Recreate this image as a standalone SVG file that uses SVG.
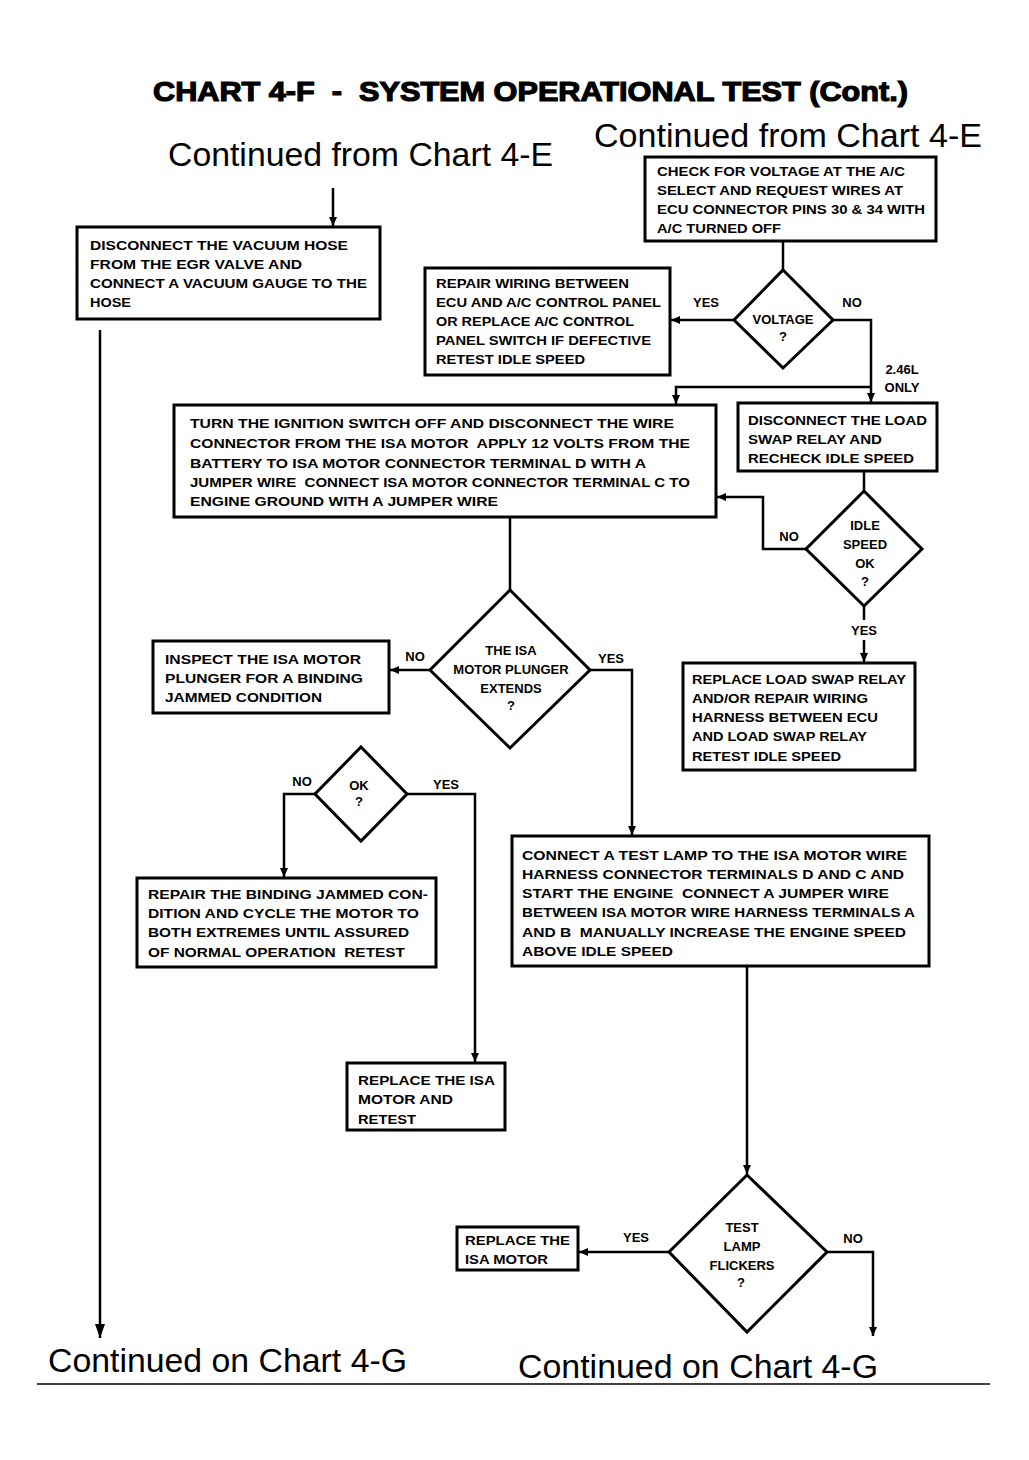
<svg xmlns="http://www.w3.org/2000/svg" width="1029" height="1460" viewBox="0 0 1029 1460">
<style>
.bx{fill:#fff;stroke:#000;stroke-width:3}
.dm{fill:#fff;stroke:#000;stroke-width:3}
.t{font-family:"Liberation Sans",Arial,sans-serif;font-weight:bold;font-size:13px;fill:#000;white-space:pre}
.c{text-anchor:middle}
.big{font-family:"Liberation Sans",Arial,sans-serif;font-size:34px;fill:#000}
.ttl{font-family:"Liberation Sans",Arial,sans-serif;font-weight:900;font-size:28px;fill:#000;stroke:#000;stroke-width:1.2;white-space:pre}
.ln{fill:none;stroke:#000;stroke-width:2.5}
</style>
<defs>
<marker id="a" markerUnits="userSpaceOnUse" markerWidth="9" markerHeight="8" refX="9" refY="4" orient="auto"><path d="M0,0 L9,4 L0,8 z" fill="#000"/></marker>
<marker id="ab" markerUnits="userSpaceOnUse" markerWidth="14" markerHeight="10" refX="14" refY="5" orient="auto"><path d="M0,0 L14,5 L0,10 z" fill="#000"/></marker>
</defs>
<rect width="1029" height="1460" fill="#fff"/>

<g id="title">
<text class="ttl" x="153" y="101" textLength="755" lengthAdjust="spacingAndGlyphs" xml:space="preserve">CHART 4-F  -  SYSTEM OPERATIONAL TEST (Cont.)</text>
</g>
<g id="cont-from-left"><text class="big" x="168" y="166" textLength="385" lengthAdjust="spacingAndGlyphs">Continued from Chart 4-E</text></g>
<g id="cont-from-right"><text class="big" x="594" y="147" textLength="388" lengthAdjust="spacingAndGlyphs">Continued from Chart 4-E</text></g>
<g id="cont-on-left"><text class="big" x="48" y="1372" textLength="359" lengthAdjust="spacingAndGlyphs">Continued on Chart 4-G</text></g>
<g id="cont-on-right"><text class="big" x="518" y="1378" textLength="360" lengthAdjust="spacingAndGlyphs">Continued on Chart 4-G</text></g>

<g id="connectors">
<path class="ln" d="M333,188 V226" marker-end="url(#a)"/>
<path class="ln" d="M100,330 V1338" marker-end="url(#ab)"/>
<path class="ln" d="M783,242 V270"/>
<path class="ln" d="M734,320 H671" marker-end="url(#a)"/>
<path class="ln" d="M833,320 H871 V402" marker-end="url(#a)"/>
<path class="ln" d="M871,387 H676 V404" marker-end="url(#a)"/>
<path class="ln" d="M864,471 V491"/>
<path class="ln" d="M806,549 H763 V497 H717" marker-end="url(#a)"/>
<path class="ln" d="M864,606 V620"/>
<path class="ln" d="M864,640 V662" marker-end="url(#a)"/>
<path class="ln" d="M510,517 V590"/>
<path class="ln" d="M430,670 H390" marker-end="url(#a)"/>
<path class="ln" d="M590,670 H632 V835" marker-end="url(#a)"/>
<path class="ln" d="M315,794 H284 V877" marker-end="url(#a)"/>
<path class="ln" d="M407,794 H475 V1062" marker-end="url(#a)"/>
<path class="ln" d="M747,966 V1174" marker-end="url(#a)"/>
<path class="ln" d="M669,1252 H579" marker-end="url(#a)"/>
<path class="ln" d="M827,1252 H873 V1336" marker-end="url(#a)"/>
<line x1="37" y1="1384" x2="990" y2="1384" stroke="#000" stroke-width="1.5"/>
<g class="t c">
<text x="706" y="307">YES</text>
<text x="852" y="307">NO</text>
<text x="902" y="374">2.46L</text>
<text x="902" y="392">ONLY</text>
<text x="789" y="541">NO</text>
<text x="864" y="635">YES</text>
<text x="415" y="661">NO</text>
<text x="611" y="663">YES</text>
<text x="302" y="786">NO</text>
<text x="446" y="789">YES</text>
<text x="636" y="1242">YES</text>
<text x="853" y="1243">NO</text>
</g>
</g>

<g id="n-vacuum">
<rect class="bx" x="77" y="227" width="303" height="92"/>
<text class="t" x="90" y="250" textLength="258" lengthAdjust="spacingAndGlyphs">DISCONNECT THE VACUUM HOSE</text>
<text class="t" x="90" y="269" textLength="212" lengthAdjust="spacingAndGlyphs">FROM THE EGR VALVE AND</text>
<text class="t" x="90" y="288" textLength="277" lengthAdjust="spacingAndGlyphs">CONNECT A VACUUM GAUGE TO THE</text>
<text class="t" x="90" y="307" textLength="41" lengthAdjust="spacingAndGlyphs">HOSE</text>
</g>

<g id="n-check-voltage">
<rect class="bx" x="645" y="157" width="291" height="84"/>
<text class="t" x="657" y="176" textLength="248" lengthAdjust="spacingAndGlyphs">CHECK FOR VOLTAGE AT THE A/C</text>
<text class="t" x="657" y="195" textLength="246" lengthAdjust="spacingAndGlyphs">SELECT AND REQUEST WIRES AT</text>
<text class="t" x="657" y="214" textLength="268" lengthAdjust="spacingAndGlyphs">ECU CONNECTOR PINS 30 &amp; 34 WITH</text>
<text class="t" x="657" y="233" textLength="124" lengthAdjust="spacingAndGlyphs">A/C TURNED OFF</text>
</g>

<g id="d-voltage">
<polygon class="dm" points="783,270 833,320 783,368 734,320"/>
<text class="t c" x="783" y="324">VOLTAGE</text>
<text class="t c" x="783" y="341">?</text>
</g>

<g id="n-repair-wiring">
<rect class="bx" x="425" y="268" width="245" height="107"/>
<text class="t" x="436" y="288" textLength="193" lengthAdjust="spacingAndGlyphs">REPAIR WIRING BETWEEN</text>
<text class="t" x="436" y="307" textLength="225" lengthAdjust="spacingAndGlyphs">ECU AND A/C CONTROL PANEL</text>
<text class="t" x="436" y="326" textLength="198" lengthAdjust="spacingAndGlyphs">OR REPLACE A/C CONTROL</text>
<text class="t" x="436" y="345" textLength="215" lengthAdjust="spacingAndGlyphs">PANEL SWITCH IF DEFECTIVE</text>
<text class="t" x="436" y="364" textLength="149" lengthAdjust="spacingAndGlyphs">RETEST IDLE SPEED</text>
</g>

<g id="n-ignition">
<rect class="bx" x="174" y="405" width="542" height="112"/>
<text class="t" x="190" y="428" textLength="484" lengthAdjust="spacingAndGlyphs">TURN THE IGNITION SWITCH OFF AND DISCONNECT THE WIRE</text>
<text class="t" x="190" y="448" textLength="500" lengthAdjust="spacingAndGlyphs" xml:space="preserve">CONNECTOR FROM THE ISA MOTOR  APPLY 12 VOLTS FROM THE</text>
<text class="t" x="190" y="468" textLength="456" lengthAdjust="spacingAndGlyphs">BATTERY TO ISA MOTOR CONNECTOR TERMINAL D WITH A</text>
<text class="t" x="190" y="487" textLength="500" lengthAdjust="spacingAndGlyphs" xml:space="preserve">JUMPER WIRE  CONNECT ISA MOTOR CONNECTOR TERMINAL C TO</text>
<text class="t" x="190" y="506" textLength="308" lengthAdjust="spacingAndGlyphs">ENGINE GROUND WITH A JUMPER WIRE</text>
</g>

<g id="n-load-swap">
<rect class="bx" x="738" y="403" width="199" height="68"/>
<text class="t" x="748" y="425" textLength="179" lengthAdjust="spacingAndGlyphs">DISCONNECT THE LOAD</text>
<text class="t" x="748" y="444" textLength="134" lengthAdjust="spacingAndGlyphs">SWAP RELAY AND</text>
<text class="t" x="748" y="463" textLength="166" lengthAdjust="spacingAndGlyphs">RECHECK IDLE SPEED</text>
</g>

<g id="d-idle">
<polygon class="dm" points="864,491 922,549 864,606 806,549"/>
<text class="t c" x="865" y="530">IDLE</text>
<text class="t c" x="865" y="549">SPEED</text>
<text class="t c" x="865" y="568">OK</text>
<text class="t c" x="865" y="586">?</text>
</g>

<g id="n-replace-relay">
<rect class="bx" x="683" y="663" width="232" height="107"/>
<text class="t" x="692" y="684" textLength="214" lengthAdjust="spacingAndGlyphs">REPLACE LOAD SWAP RELAY</text>
<text class="t" x="692" y="703" textLength="176" lengthAdjust="spacingAndGlyphs">AND/OR REPAIR WIRING</text>
<text class="t" x="692" y="722" textLength="186" lengthAdjust="spacingAndGlyphs">HARNESS BETWEEN ECU</text>
<text class="t" x="692" y="741" textLength="175" lengthAdjust="spacingAndGlyphs">AND LOAD SWAP RELAY</text>
<text class="t" x="692" y="761" textLength="149" lengthAdjust="spacingAndGlyphs">RETEST IDLE SPEED</text>
</g>

<g id="d-plunger">
<polygon class="dm" points="510,590 590,670 510,748 430,670"/>
<text class="t c" x="511" y="655">THE ISA</text>
<text class="t c" x="511" y="674">MOTOR PLUNGER</text>
<text class="t c" x="511" y="693">EXTENDS</text>
<text class="t c" x="511" y="710">?</text>
</g>

<g id="n-inspect">
<rect class="bx" x="153" y="641" width="236" height="72"/>
<text class="t" x="165" y="664" textLength="196" lengthAdjust="spacingAndGlyphs">INSPECT THE ISA MOTOR</text>
<text class="t" x="165" y="683" textLength="198" lengthAdjust="spacingAndGlyphs">PLUNGER FOR A BINDING</text>
<text class="t" x="165" y="702" textLength="157" lengthAdjust="spacingAndGlyphs">JAMMED CONDITION</text>
</g>

<g id="d-ok">
<polygon class="dm" points="361,747 407,794 361,841 315,794"/>
<text class="t c" x="359" y="790">OK</text>
<text class="t c" x="359" y="806">?</text>
</g>

<g id="n-repair-binding">
<rect class="bx" x="137" y="878" width="299" height="89"/>
<text class="t" x="148" y="899" textLength="280" lengthAdjust="spacingAndGlyphs">REPAIR THE BINDING JAMMED CON-</text>
<text class="t" x="148" y="918" textLength="271" lengthAdjust="spacingAndGlyphs">DITION AND CYCLE THE MOTOR TO</text>
<text class="t" x="148" y="937" textLength="261" lengthAdjust="spacingAndGlyphs">BOTH EXTREMES UNTIL ASSURED</text>
<text class="t" x="148" y="957" textLength="257" lengthAdjust="spacingAndGlyphs" xml:space="preserve">OF NORMAL OPERATION  RETEST</text>
</g>

<g id="n-test-lamp">
<rect class="bx" x="512" y="836" width="417" height="130"/>
<text class="t" x="522" y="860" textLength="385" lengthAdjust="spacingAndGlyphs">CONNECT A TEST LAMP TO THE ISA MOTOR WIRE</text>
<text class="t" x="522" y="879" textLength="382" lengthAdjust="spacingAndGlyphs">HARNESS CONNECTOR TERMINALS D AND C AND</text>
<text class="t" x="522" y="898" textLength="367" lengthAdjust="spacingAndGlyphs" xml:space="preserve">START THE ENGINE  CONNECT A JUMPER WIRE</text>
<text class="t" x="522" y="917" textLength="393" lengthAdjust="spacingAndGlyphs">BETWEEN ISA MOTOR WIRE HARNESS TERMINALS A</text>
<text class="t" x="522" y="937" textLength="384" lengthAdjust="spacingAndGlyphs" xml:space="preserve">AND B  MANUALLY INCREASE THE ENGINE SPEED</text>
<text class="t" x="522" y="956" textLength="151" lengthAdjust="spacingAndGlyphs">ABOVE IDLE SPEED</text>
</g>

<g id="n-replace-retest">
<rect class="bx" x="347" y="1063" width="158" height="67"/>
<text class="t" x="358" y="1085" textLength="137" lengthAdjust="spacingAndGlyphs">REPLACE THE ISA</text>
<text class="t" x="358" y="1104" textLength="95" lengthAdjust="spacingAndGlyphs">MOTOR AND</text>
<text class="t" x="358" y="1124" textLength="58" lengthAdjust="spacingAndGlyphs">RETEST</text>
</g>

<g id="d-flickers">
<polygon class="dm" points="747,1175 827,1252 747,1332 669,1252"/>
<text class="t c" x="742" y="1232">TEST</text>
<text class="t c" x="742" y="1251">LAMP</text>
<text class="t c" x="742" y="1270">FLICKERS</text>
<text class="t c" x="741" y="1287">?</text>
</g>

<g id="n-replace-isa">
<rect class="bx" x="457" y="1227" width="121" height="43"/>
<text class="t" x="465" y="1245" textLength="105" lengthAdjust="spacingAndGlyphs">REPLACE THE</text>
<text class="t" x="465" y="1264" textLength="83" lengthAdjust="spacingAndGlyphs">ISA MOTOR</text>
</g>
</svg>
